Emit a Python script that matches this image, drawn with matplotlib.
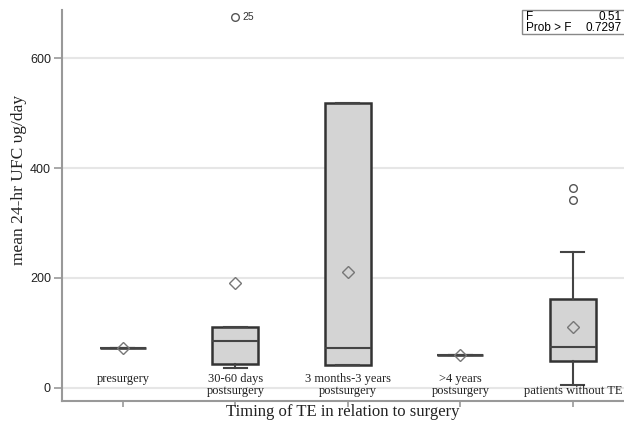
import numpy as np
import matplotlib
matplotlib.use('Agg')
import matplotlib.pyplot as plt
from matplotlib.patches import Rectangle

plt.rcParams['font.family'] = ['Liberation Sans', 'DejaVu Sans']

# values
groups = ['presurgery', '30-60 days\npostsurgery', '3 months-3 years\npostsurgery',
          '>4 years\npostsurgery', '\npatients without TE']
q1 = [73, 43, 41, 59, 48]
med = [73, 85, 73, 59, 74]
q3 = [73, 110, 518, 59, 162]
whislo = [73, 36, 41, 59, 5]
whishi = [73, 110, 518, 59, 248]
means = [73, 190, 210, 59, 111]
fliers = [[], [675], [], [], [364, 342]]
flier_ids = {1: '25'}
f_value = '0.51'
p_value = '0.7297'

stats = []
for i in range(len(groups)):
    stats.append(dict(q1=q1[i], med=med[i], q3=q3[i], whislo=whislo[i], whishi=whishi[i],
                      mean=means[i], fliers=np.array(fliers[i])))

fig = plt.figure(figsize=(6.24, 4.22), dpi=100)
ax = fig.add_axes([62/624, 21/422, 1 - 62/624, (401 - 10)/422])

pos = np.arange(1, len(groups) + 1)
edge = '#333333'
ax.bxp(stats, positions=pos, widths=0.41, showmeans=True, patch_artist=True,
       boxprops=dict(facecolor='#d4d4d4', edgecolor=edge, linewidth=1.8),
       medianprops=dict(color='#444444', linewidth=1.5),
       whiskerprops=dict(color='#444444', linewidth=1.5),
       capprops=dict(color='#444444', linewidth=1.5),
       meanprops=dict(marker='D', markerfacecolor='none', markeredgecolor='#777777',
                      markersize=6.5, markeredgewidth=1.0),
       flierprops=dict(marker='o', markerfacecolor='none', markeredgecolor='#555555',
                       markersize=5.5, markeredgewidth=1.0))

for i, lab in flier_ids.items():
    ax.annotate(lab, (pos[i], fliers[i][0]), xytext=(5, 0), textcoords='offset points',
                va='center', ha='left', fontsize=7.5, color='#333333')

for p, g in zip(pos, groups):
    ax.text(p, 27, g, ha='center', va='top', fontsize=9, family='Liberation Serif',
            linespacing=1.05, color='#222222')

ax.set_xlim(0.458, 5.455)
ax.set_ylim(-24, 688)
ax.set_xticks(pos)
ax.set_xticklabels([])
ax.set_yticks([0, 200, 400, 600])
ax.grid(axis='y', color='#e6e6e6', linewidth=1.5)
ax.set_axisbelow(True)
for s in ['top', 'right']:
    ax.spines[s].set_visible(False)
for s in ['left', 'bottom']:
    ax.spines[s].set_color('#999999')
    ax.spines[s].set_linewidth(1.5)
ax.tick_params(axis='y', colors='#999999', length=6, width=1.2, pad=2, labelsize=9,
               labelcolor='#222222')
ax.tick_params(axis='x', colors='#999999', length=4.5, width=1.2)

ax.set_xlabel('Timing of TE in relation to surgery', family='Liberation Serif',
              fontsize=12, color='#222222', va='top')
ax.xaxis.set_label_coords(0.5, -0.008)
ax.set_ylabel('mean 24-hr UFC \u03c5g/day', family='Liberation Serif', fontsize=12.5,
              color='#222222', va='center')
ax.yaxis.set_label_coords(-0.0765, 0.565)

# F test inset box
fig.patches.append(Rectangle((522/624, (422 - 34)/422), 110/624, 24/422,
                             transform=fig.transFigure, facecolor='white',
                             edgecolor='#888888', linewidth=1.0))
fig.text(526/624, (422 - 17)/422, 'F', fontsize=8.5, va='center', ha='left')
fig.text(622/624, (422 - 17)/422, f_value, fontsize=8.5, va='center', ha='right')
fig.text(526/624, (422 - 28)/422, 'Prob > F', fontsize=8.5, va='center', ha='left')
fig.text(622/624, (422 - 28)/422, p_value, fontsize=8.5, va='center', ha='right')

fig.savefig('out.png', dpi=100)
